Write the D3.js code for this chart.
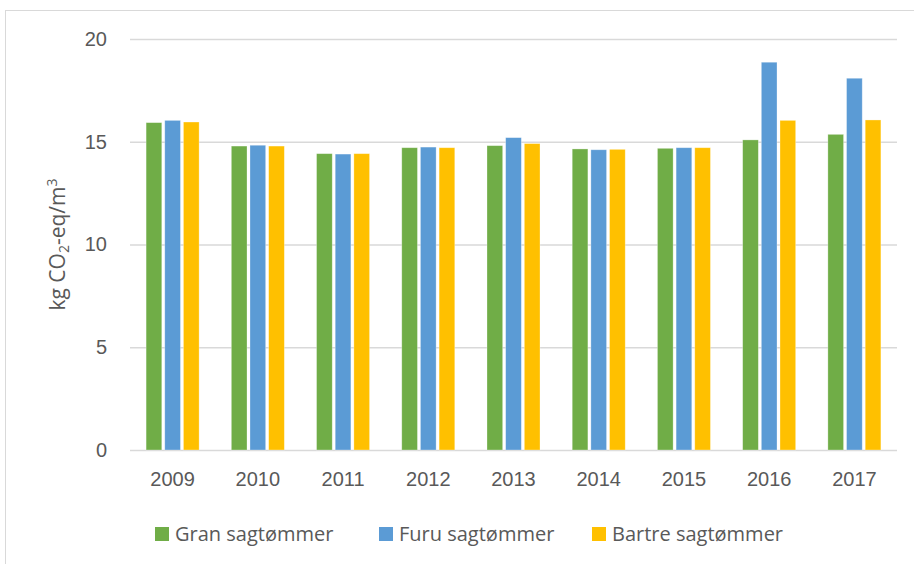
<!DOCTYPE html>
<html>
<head>
<meta charset="utf-8">
<script src="https://cdn.jsdelivr.net/npm/d3@7"></script>
<style>
  body { margin: 0; background: #fff; }
  svg { display: block; font-family: "Open Sans", sans-serif; }
</style>
</head>
<body>
<div id="chart"></div>
<script>
// chart data
var years = ["2009", "2010", "2011", "2012", "2013", "2014", "2015", "2016", "2017"];
var seriesNames = ["Gran sagtømmer", "Furu sagtømmer", "Bartre sagtømmer"];
var seriesColors = ["#70AD47", "#5B9BD5", "#FFC000"];
var gran   = [15.93, 14.79, 14.42, 14.71, 14.81, 14.65, 14.68, 15.09, 15.36];
var furu   = [16.04, 14.83, 14.40, 14.74, 15.20, 14.61, 14.71, 18.87, 18.09];
var bartre = [15.96, 14.79, 14.42, 14.71, 14.91, 14.63, 14.71, 16.04, 16.06];
var yTicks = [0, 5, 10, 15, 20];

var width = 914, height = 564;
var textColor = "#595959", gridColor = "#D9D9D9";

var svg = d3.select("#chart").append("svg")
  .attr("width", width)
  .attr("height", height);

// outer chart frame (runs off the right and bottom edge)
svg.append("rect")
  .attr("x", 5.5).attr("y", 10.5)
  .attr("width", 960).attr("height", 600)
  .attr("fill", "none")
  .attr("stroke", gridColor)
  .attr("stroke-width", 1);

var plot = { left: 130, right: 897, top: 39, bottom: 450 };

var y = d3.scaleLinear().domain([0, 20]).range([plot.bottom, plot.top]);

var x0 = d3.scaleBand()
  .domain(years)
  .range([plot.left, plot.right])
  .paddingInner(0.378)
  .paddingOuter(0.189);

var x1 = d3.scaleBand()
  .domain(seriesNames)
  .range([0, x0.bandwidth()])
  .paddingInner(0.16);

// gridlines + y labels
var yAxis = d3.axisLeft(y)
  .tickValues(yTicks)
  .tickSize(-(plot.right - plot.left))
  .tickPadding(23);

var gy = svg.append("g")
  .attr("transform", "translate(" + plot.left + ",0)")
  .call(yAxis);
gy.select(".domain").remove();
gy.selectAll(".tick line").attr("stroke", gridColor).attr("stroke-width", 1.5);
gy.selectAll(".tick text")
  .attr("fill", textColor)
  .style("font-size", "20px");

// bars
var rows = years.map(function(yr, i) {
  return { year: yr, values: [gran[i], furu[i], bartre[i]] };
});

var groups = svg.append("g").selectAll("g")
  .data(rows)
  .enter().append("g")
    .attr("transform", function(d) { return "translate(" + x0(d.year) + ",0)"; });

groups.selectAll("rect")
  .data(function(d) {
    return d.values.map(function(v, j) { return { name: seriesNames[j], value: v, color: seriesColors[j] }; });
  })
  .enter().append("rect")
    .attr("x", function(d) { return x1(d.name); })
    .attr("y", function(d) { return y(d.value); })
    .attr("width", x1.bandwidth())
    .attr("height", function(d) { return y(0) - y(d.value); })
    .attr("fill", function(d) { return d.color; })
    .attr("stroke", "#fff")
    .attr("stroke-opacity", 0.4)
    .attr("stroke-width", 0.75);

// x axis labels (the 0 gridline works as the axis line)
var xAxis = d3.axisBottom(x0).tickSize(0).tickPadding(22);
var gx = svg.append("g")
  .attr("transform", "translate(0," + plot.bottom + ")")
  .call(xAxis);
gx.select(".domain").remove();
gx.selectAll(".tick text")
  .attr("fill", textColor)
  .style("font-size", "20px");

// y title
var yTitle = svg.append("text")
  .attr("transform", "translate(65," + ((plot.top + plot.bottom) / 2) + ") rotate(-90)")
  .attr("text-anchor", "middle")
  .attr("fill", textColor)
  .style("font-size", "21px");
yTitle.append("tspan").text("kg CO");
yTitle.append("tspan").text("2").style("font-size", "14px").attr("dy", 4);
yTitle.append("tspan").text("-eq/m").attr("dy", -4);
yTitle.append("tspan").text("3").style("font-size", "14px").attr("dy", -8);

// legend
var legendX = [155, 379, 592];
var legend = svg.append("g").selectAll("g")
  .data(seriesNames)
  .enter().append("g")
    .attr("transform", function(d, i) { return "translate(" + legendX[i] + ",527)"; });

legend.append("rect")
  .attr("width", 14).attr("height", 14)
  .attr("fill", function(d, i) { return seriesColors[i]; });

legend.append("text")
  .attr("x", 20).attr("y", 7)
  .attr("dy", "0.35em")
  .attr("fill", textColor)
  .style("font-size", "20px")
  .text(function(d) { return d; });
</script>
</body>
</html>
